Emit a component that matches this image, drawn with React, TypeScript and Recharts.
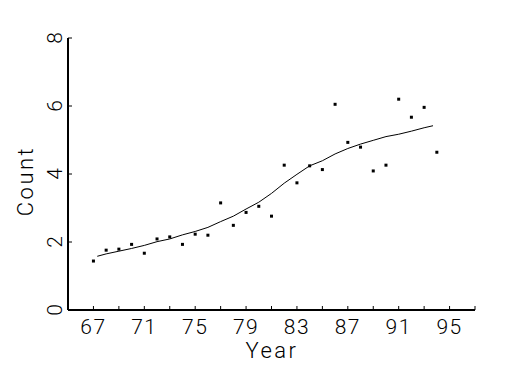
import { ScatterChart, Scatter, XAxis, YAxis } from 'recharts';

// observed yearly counts
const years = [67, 68, 69, 70, 71, 72, 73, 74, 75, 76, 77, 78, 79, 80, 81, 82, 83, 84, 85, 86, 87, 88, 89, 90, 91, 92, 93, 94];
const counts = [1.44, 1.76, 1.79, 1.93, 1.67, 2.09, 2.15, 1.93, 2.23, 2.2, 3.15, 2.49, 2.87, 3.05, 2.76, 4.26, 3.74, 4.24, 4.13, 6.05, 4.93, 4.79, 4.09, 4.26, 6.2, 5.67, 5.96, 4.64];

// smoothed fit
const fitYears = [67.3, 68, 69, 70, 71, 72, 73, 74, 75, 76, 77, 78, 79, 80, 81, 82, 83, 84, 85, 86, 87, 88, 89, 90, 91, 92, 93, 93.7];
const fitCounts = [1.58, 1.65, 1.73, 1.81, 1.9, 2.01, 2.09, 2.21, 2.31, 2.43, 2.6, 2.76, 2.97, 3.17, 3.43, 3.73, 3.99, 4.24, 4.39, 4.59, 4.75, 4.88, 4.99, 5.1, 5.17, 5.26, 5.36, 5.42];

const xTicks = [65, 67, 69, 71, 73, 75, 77, 79, 81, 83, 85, 87, 89, 91, 93, 95, 97];
const xLabels = [67, 71, 75, 79, 83, 87, 91, 95];
const yTicks = [0, 2, 4, 6, 8];

const points = years.map((x, i) => ({ x, y: counts[i] }));
const fit = fitYears.map((x, i) => ({ x, y: fitCounts[i] }));

const FONT = 'Roboto, "DejaVu Sans", sans-serif';

const XTick = (props: any) => {
  const { x, y, payload } = props;
  const v = payload.value;
  return (
    <g>
      <line x1={x} y1={y} x2={x} y2={y - 4} stroke="#000" strokeWidth={1} />
      {xLabels.includes(v) && (
        <text x={x} y={y + 24} textAnchor="middle" fontSize={21} fontFamily={FONT} fontWeight={300} fill="#000" letterSpacing={1.5}>
          {v}
        </text>
      )}
    </g>
  );
};

const YTick = (props: any) => {
  const { x, y, payload } = props;
  return (
    <g>
      <line x1={x} y1={y} x2={x + 4} y2={y} stroke="#000" strokeWidth={1} />
      <text
        x={x - 6}
        y={y}
        textAnchor="middle"
        fontSize={21}
        fontFamily={FONT}
        fontWeight={300}
        fill="#000"
        transform={`rotate(-90, ${x - 6}, ${y})`}
      >
        {payload.value}
      </text>
    </g>
  );
};

const Dot = (props: any) => {
  const { cx, cy } = props;
  return <rect x={cx - 1.5} y={cy - 1.5} width={3} height={3} fill="#000" />;
};

const NoDot = () => <g />;

export default function App() {
  return (
    <div style={{ position: 'absolute', left: 0, top: 0, background: '#fff' }}>
      <ScatterChart width={525} height={375} margin={{ top: 38, right: 50, bottom: 0, left: 0 }}>
        <XAxis
          type="number"
          dataKey="x"
          domain={[65, 97]}
          ticks={xTicks}
          interval={0}
          height={65}
          tickSize={0}
          tickMargin={0}
          tickLine={false}
          axisLine={{ stroke: '#000', strokeWidth: 2 }}
          tick={<XTick />}
          allowDataOverflow
        />
        <YAxis
          type="number"
          dataKey="y"
          domain={[0, 8]}
          ticks={yTicks}
          interval={0}
          width={68}
          tickSize={0}
          tickMargin={0}
          tickLine={false}
          axisLine={{ stroke: '#000', strokeWidth: 2 }}
          tick={<YTick />}
        />
        <Scatter data={fit} line={{ stroke: '#000', strokeWidth: 1 }} lineType="joint" shape={<NoDot />} isAnimationActive={false} />
        <Scatter data={points} shape={<Dot />} isAnimationActive={false} />
        <text x={272} y={358} textAnchor="middle" fontSize={22} fontFamily={FONT} fontWeight={300} fill="#000" letterSpacing={2.5}>
          Year
        </text>
        <text
          x={33}
          y={181}
          textAnchor="middle"
          fontSize={22}
          fontFamily={FONT}
          fontWeight={300}
          fill="#000"
          letterSpacing={2.5}
          transform="rotate(-90, 33, 181)"
        >
          Count
        </text>
      </ScatterChart>
    </div>
  );
}
